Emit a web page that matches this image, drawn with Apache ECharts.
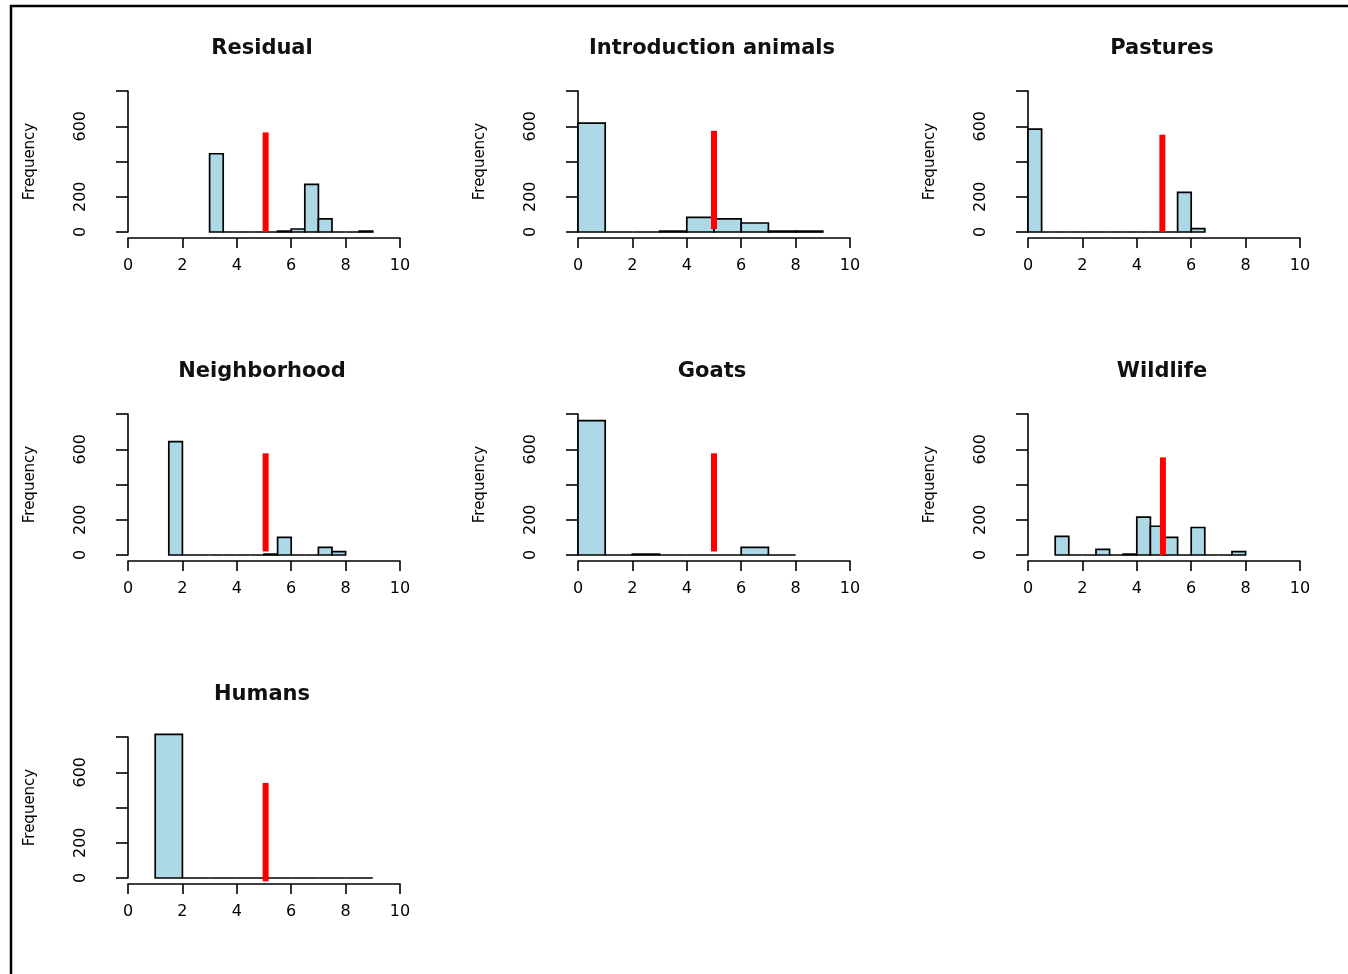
<!DOCTYPE html>
<html>
<head>
<meta charset="utf-8">
<script src="https://cdn.jsdelivr.net/npm/echarts@6/dist/echarts.min.js"></script>
<style>html,body{margin:0;padding:0;background:#fff}#c{width:1348px;height:974px}</style>
</head>
<body>
<div id="c"></div>
<script>
// ---- data ----
const panelTitles = ['Residual', 'Introduction animals', 'Pastures', 'Neighborhood', 'Goats', 'Wildlife', 'Humans'];
// histogram bins: first break, bin width, counts per bin
const residualStart = 3,   residualWidth = 0.5, residualCounts = [444, 0, 0, 0, 0, 5, 17, 270, 75, 0, 0, 5];
const introStart = 0,      introWidth = 1,      introCounts = [618, 0, 0, 5, 83, 75, 51, 5, 5];
const pasturesStart = 0,   pasturesWidth = 0.5, pasturesCounts = [584, 0, 0, 0, 0, 0, 0, 0, 0, 0, 0, 225, 19];
const neighStart = 1.5,    neighWidth = 0.5,    neighCounts = [643, 0, 0, 0, 0, 0, 0, 5, 100, 0, 0, 43, 19];
const goatsStart = 0,      goatsWidth = 1,      goatsCounts = [762, 0, 5, 0, 0, 0, 43, 0];
const wildlifeStart = 1,   wildlifeWidth = 0.5, wildlifeCounts = [106, 0, 0, 32, 0, 5, 215, 163, 100, 0, 156, 0, 0, 19];
const humansStart = 1,     humansWidth = 1,     humansCounts = [815, 0, 0, 0, 0, 0, 0, 0];
// red reference lines: [x, yFrom, yTo]
const residualRef = [5.06, 0, 565];
const introRef = [5.0, 17, 574];
const pasturesRef = [4.94, 0, 552];
const neighRef = [5.06, 20, 577];
const goatsRef = [5.0, 20, 577];
const wildlifeRef = [4.96, 0, 554];
const humansRef = [5.06, -19, 539];
// axis ticks
const xTicks = [0, 2, 4, 6, 8, 10];
const yTicks = [0, 200, 400, 600, 800];
const yTickLabelsShown = [0, 200, 600];

const hists = [
  [residualStart, residualWidth, residualCounts],
  [introStart, introWidth, introCounts],
  [pasturesStart, pasturesWidth, pasturesCounts],
  [neighStart, neighWidth, neighCounts],
  [goatsStart, goatsWidth, goatsCounts],
  [wildlifeStart, wildlifeWidth, wildlifeCounts],
  [humansStart, humansWidth, humansCounts]
];
const refs = [residualRef, introRef, pasturesRef, neighRef, goatsRef, wildlifeRef, humansRef];

const colLeft = [128, 578, 1028];
const rowTop = [91, 414, 737];
const W = 272, H = 141;
const FONT = 'DejaVu Sans';

const grids = [], xAxes = [], yAxes = [], series = [], titles = [];
hists.forEach((h, i) => {
  const col = i % 3, row = Math.floor(i / 3);
  grids.push({ left: colLeft[col], top: rowTop[row], width: W, height: H, containLabel: false });
  xAxes.push({
    gridIndex: i, type: 'value', min: xTicks[0], max: xTicks[xTicks.length - 1], interval: 2,
    offset: 6, position: 'bottom',
    axisLine: { show: true, onZero: false, lineStyle: { color: '#000', width: 1.6 } },
    axisTick: { show: true, length: 10, lineStyle: { color: '#000', width: 1.6 } },
    axisLabel: { color: '#000', fontFamily: FONT, fontSize: 16, margin: 20 },
    splitLine: { show: false }
  });
  yAxes.push({
    gridIndex: i, type: 'value', min: yTicks[0], max: yTicks[yTicks.length - 1], interval: 200,
    offset: 12, position: 'left',
    name: 'Frequency', nameLocation: 'middle', nameGap: 78,
    nameTextStyle: { color: '#000', fontFamily: FONT, fontSize: 15 },
    axisLine: { show: true, lineStyle: { color: '#000', width: 1.6 } },
    axisTick: { show: true, length: 12, lineStyle: { color: '#000', width: 1.6 } },
    axisLabel: {
      color: '#000', fontFamily: FONT, fontSize: 16, rotate: 90, margin: 27,
      formatter: v => yTickLabelsShown.indexOf(v) >= 0 ? String(v) : ''
    },
    splitLine: { show: false }
  });
  const [start, width, counts] = h;
  const data = counts.map((c, k) => [start + k * width, start + (k + 1) * width, c]);
  series.push({
    type: 'custom', xAxisIndex: i, yAxisIndex: i, data: data,
    encode: { x: [0, 1], y: 2 },
    renderItem: (params, api) => {
      const p0 = api.coord([api.value(0), api.value(2)]);
      const p1 = api.coord([api.value(1), 0]);
      return {
        type: 'rect',
        shape: { x: p0[0], y: p0[1], width: p1[0] - p0[0], height: p1[1] - p0[1] },
        style: { fill: '#ADD8E6', stroke: '#000', lineWidth: 1.7 }
      };
    },
    z: 2
  });
  const r = refs[i];
  series.push({
    type: 'line', xAxisIndex: i, yAxisIndex: i, clip: false,
    data: [[r[0], r[1]], [r[0], r[2]]],
    symbol: 'none', lineStyle: { color: '#ff0000', width: 6, cap: 'butt' }, z: 5,
    silent: true, animation: false
  });
  titles.push({
    text: panelTitles[i], left: colLeft[col] + W / 2 - 7, top: rowTop[row] - 58, textAlign: 'center',
    textStyle: { fontFamily: FONT, fontWeight: 'bold', fontSize: 21, color: '#111' }
  });
});

const chart = echarts.init(document.getElementById('c'), null, { renderer: 'canvas' });
chart.setOption({
  animation: false,
  backgroundColor: '#fff',
  title: titles,
  grid: grids,
  xAxis: xAxes,
  yAxis: yAxes,
  series: series,
  graphic: [
    { type: 'line', shape: { x1: 10, y1: 6, x2: 1348, y2: 6 }, style: { stroke: '#000', lineWidth: 2.5 } },
    { type: 'line', shape: { x1: 11, y1: 5, x2: 11, y2: 974 }, style: { stroke: '#000', lineWidth: 2.5 } }
  ]
});
</script>
</body>
</html>
